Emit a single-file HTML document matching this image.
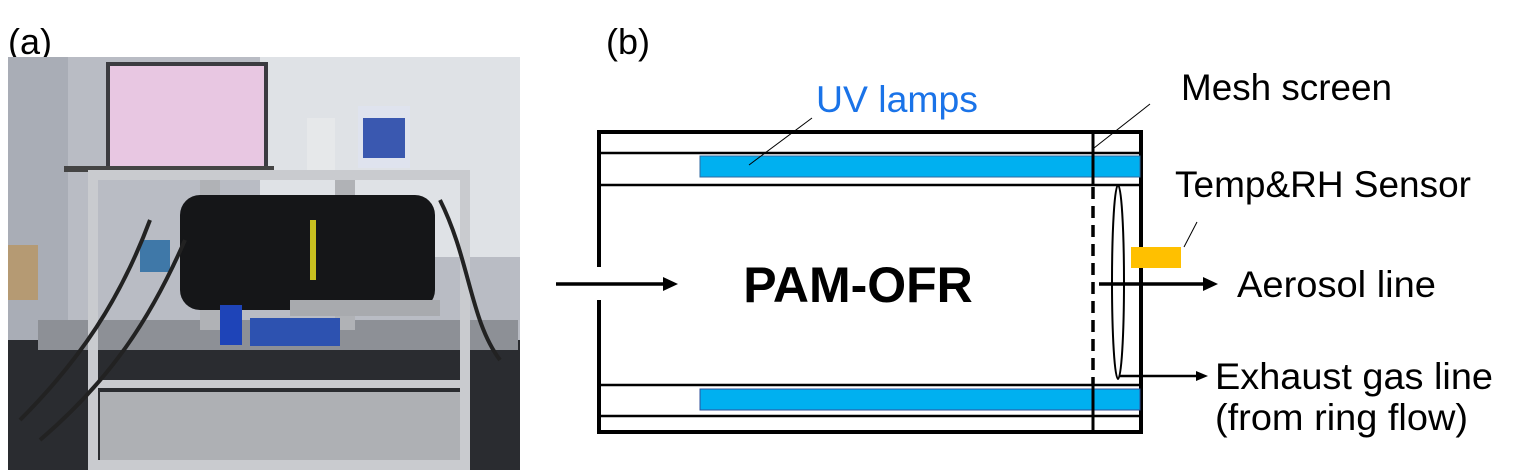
<!DOCTYPE html>
<html><head><meta charset="utf-8"><style>
html,body{margin:0;padding:0;background:#fff;width:1520px;height:470px;overflow:hidden}
svg text{font-family:"Liberation Sans",Arial,sans-serif}
</style></head><body>
<svg width="1520" height="470" viewBox="0 0 1520 470" xmlns="http://www.w3.org/2000/svg">
<text x="8" y="54" font-size="36">(a)</text>
<text x="606" y="54" font-size="36">(b)</text>
<g>
<rect x="8" y="57" width="512" height="413" fill="#b9bcc4"/>
<rect x="260" y="57" width="260" height="200" fill="#dfe2e6"/>
<rect x="8" y="57" width="60" height="300" fill="#a9adb6"/>
<rect x="8" y="245" width="30" height="55" fill="#b59a73"/>
<rect x="8" y="340" width="512" height="130" fill="#2a2c30"/>
<rect x="38" y="320" width="480" height="30" fill="#8d9096"/>
<rect x="106" y="62" width="162" height="108" fill="#3b3b40"/>
<rect x="110" y="66" width="154" height="100" fill="#e8c7e2"/>
<rect x="64" y="166" width="210" height="6" fill="#444"/>
<rect x="307" y="118" width="28" height="52" fill="#e6e8ea"/>
<rect x="358" y="106" width="52" height="62" fill="#dfe3ee"/>
<rect x="363" y="118" width="42" height="40" fill="#3a58b0"/>
<rect x="93" y="175" width="372" height="290" fill="none" stroke="#c9cbcf" stroke-width="10"/>
<rect x="98" y="380" width="362" height="8" fill="#c9cbcf"/>
<rect x="200" y="180" width="20" height="150" fill="#b0b2b6"/>
<rect x="335" y="180" width="20" height="150" fill="#b0b2b6"/>
<rect x="180" y="195" width="255" height="115" rx="20" fill="#151618"/>
<rect x="310" y="220" width="6" height="60" fill="#c8c020"/>
<rect x="250" y="318" width="90" height="28" fill="#2d52b0"/>
<rect x="220" y="305" width="22" height="40" fill="#1e44b8"/>
<rect x="140" y="240" width="30" height="32" fill="#3f78a8"/>
<rect x="290" y="300" width="150" height="16" fill="#a8aaae"/>
<rect x="100" y="392" width="360" height="68" fill="#aeb0b4"/>
<path d="M20 420 C 80 360,120 300,150 220 M40 440 C 110 380,150 320,185 240 M440 200 C 470 260,470 320,500 360" stroke="#222" stroke-width="4" fill="none"/>
</g>
<g stroke="#000" fill="none">
<line x1="597" y1="132" x2="1143" y2="132" stroke-width="4"/>
<line x1="597" y1="432" x2="1143" y2="432" stroke-width="4"/>
<line x1="1141" y1="130" x2="1141" y2="434" stroke-width="4"/>
<line x1="599" y1="130" x2="599" y2="267" stroke-width="4"/>
<line x1="599" y1="300" x2="599" y2="434" stroke-width="4"/>
<line x1="597" y1="153" x2="1141" y2="153" stroke-width="2.5"/>
<line x1="597" y1="185" x2="1141" y2="185" stroke-width="2.5"/>
<line x1="597" y1="385" x2="1141" y2="385" stroke-width="2.5"/>
<line x1="597" y1="416" x2="1141" y2="416" stroke-width="2.5"/>
</g>
<rect x="700" y="156" width="440" height="21" fill="#00b0f0" stroke="#2f6aa0" stroke-width="1"/>
<rect x="700" y="389" width="440" height="21" fill="#00b0f0" stroke="#2f4f9a" stroke-width="1"/>
<line x1="1093" y1="132" x2="1093" y2="185" stroke="#000" stroke-width="3"/>
<line x1="1093" y1="385" x2="1093" y2="432" stroke="#000" stroke-width="3"/>
<line x1="1093" y1="187" x2="1093" y2="385" stroke="#000" stroke-width="3.5" stroke-dasharray="12,7"/>
<ellipse cx="1118" cy="282" rx="6" ry="97" fill="none" stroke="#000" stroke-width="2"/>
<rect x="1131" y="247" width="50" height="21" fill="#ffc000"/>
<g stroke="#000" stroke-width="1">
<line x1="749" y1="165" x2="812" y2="118"/>
<line x1="1094" y1="148" x2="1150" y2="104"/>
<line x1="1184" y1="247" x2="1197" y2="222"/>
</g>
<g stroke="#000" stroke-width="3.5">
<line x1="556" y1="284" x2="665" y2="284"/>
<line x1="1099" y1="284" x2="1205" y2="284"/>
<line x1="1120" y1="376" x2="1198" y2="376" stroke-width="2.5"/>
</g>
<polygon points="663,277 678,284 663,291" fill="#000"/>
<polygon points="1203,277 1218,284 1203,291" fill="#000"/>
<polygon points="1196,371 1208,376 1196,381" fill="#000"/>
<text x="858" y="302" font-size="50" font-weight="bold" text-anchor="middle">PAM-OFR</text>
<text x="816" y="112" font-size="37" fill="#1a73e8" textLength="162" lengthAdjust="spacingAndGlyphs">UV lamps</text>
<text x="1181" y="100" font-size="37" textLength="211" lengthAdjust="spacingAndGlyphs">Mesh screen</text>
<text x="1175" y="197" font-size="37" textLength="296" lengthAdjust="spacingAndGlyphs">Temp&amp;RH Sensor</text>
<text x="1237" y="297" font-size="37" textLength="199" lengthAdjust="spacingAndGlyphs">Aerosol line</text>
<text x="1215" y="389" font-size="37" textLength="278" lengthAdjust="spacingAndGlyphs">Exhaust gas line</text>
<text x="1215" y="430" font-size="37" textLength="253" lengthAdjust="spacingAndGlyphs">(from ring flow)</text>
</svg>
</body></html>
